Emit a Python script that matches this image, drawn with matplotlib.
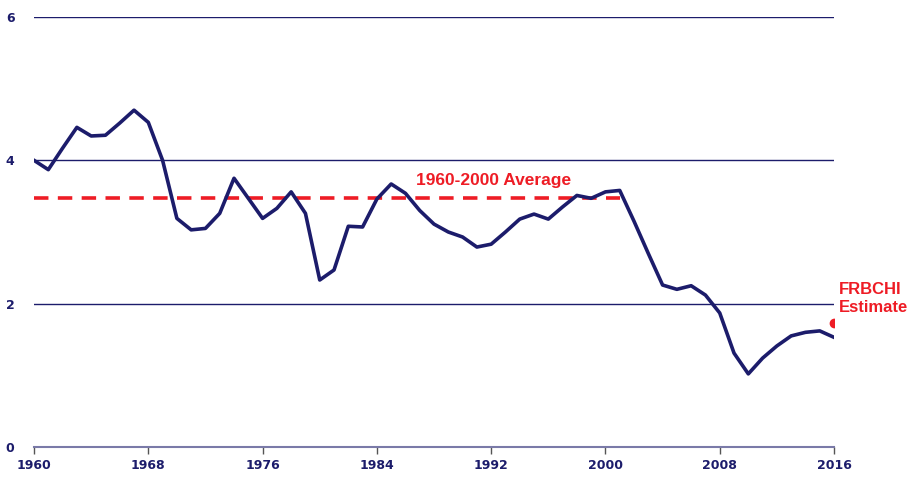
import matplotlib.pyplot as plt

years = list(range(1960, 2017))
values = [4.00, 3.87, 4.17, 4.46, 4.34, 4.35, 4.52, 4.70, 4.53, 4.00,
          3.19, 3.03, 3.05, 3.26, 3.75, 3.47, 3.19, 3.33, 3.56, 3.26,
          2.33, 2.47, 3.08, 3.07, 3.46, 3.67, 3.54, 3.30, 3.11, 3.00,
          2.93, 2.79, 2.83, 3.00, 3.18, 3.25, 3.18, 3.35, 3.51, 3.47,
          3.56, 3.58, 3.15, 2.70, 2.26, 2.20, 2.25, 2.12, 1.87, 1.31,
          1.02, 1.24, 1.41, 1.55, 1.60, 1.62, 1.53]

avg_years = [1960, 2001]
avg_value = 3.47
estimate_year = 2016
estimate_value = 1.73

x_ticks = [1960, 1968, 1976, 1984, 1992, 2000, 2008, 2016]
y_ticks = [0, 2, 4, 6]

navy = "#1c1c6b"
red = "#ee1c25"

fig = plt.figure(figsize=(9.12, 4.78), dpi=100)
ax = fig.add_axes([0.0373, 0.0649, 0.8772, 0.8995])

for y in y_ticks[1:]:
    ax.axhline(y, color=navy, linewidth=1.0, zorder=1)

ax.plot(avg_years, [avg_value, avg_value], color=red, linestyle=(0, (4, 2.6)),
        linewidth=2.6, zorder=2)
ax.plot(years, values, color=navy, linewidth=2.6, zorder=3)
ax.plot([estimate_year], [estimate_value], "o", color=red, markersize=6, zorder=4)

ax.text(1992.2, 3.72, "1960-2000 Average", color=red, fontsize=12.5,
        fontweight="bold", family="Liberation Sans", ha="center", va="center")
ax.text(2016.35, 2.07, "FRBCHI\nEstimate", color=red, fontsize=12,
        fontweight="bold", family="Liberation Sans", ha="left", va="center",
        linespacing=1.3, clip_on=False)

ax.set_xlim(1960, 2016)
ax.set_ylim(0, 6)
ax.set_xticks(x_ticks)
ax.set_yticks(y_ticks)

for side in ["top", "right", "left"]:
    ax.spines[side].set_visible(False)
ax.spines["bottom"].set_color("#7a7aa8")
ax.spines["bottom"].set_linewidth(1.5)

ax.tick_params(axis="x", colors="#555", length=5, width=1, direction="out",
               labelcolor=navy, labelsize=9, pad=4)
ax.tick_params(axis="y", length=0, labelcolor=navy, labelsize=9, pad=14)
for lab in ax.get_xticklabels() + ax.get_yticklabels():
    lab.set_fontweight("bold")

plt.savefig("out.png", dpi=100)
